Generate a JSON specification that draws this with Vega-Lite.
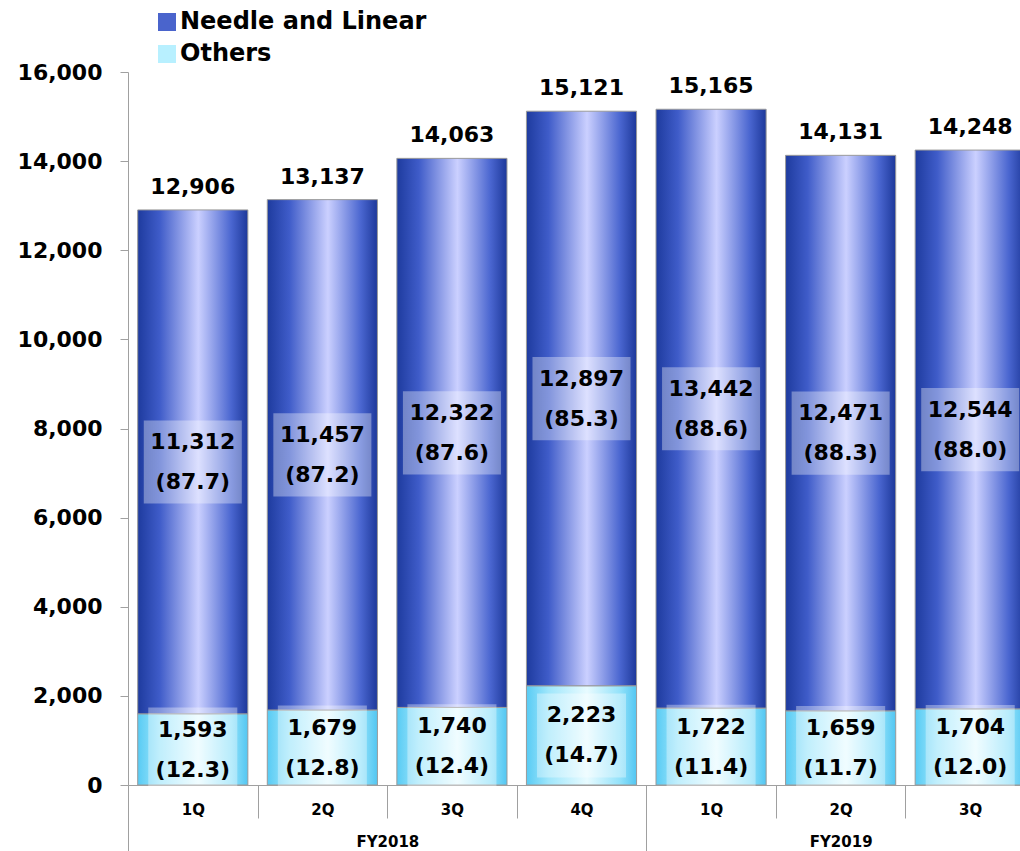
{
  "$schema": "https://vega.github.io/schema/vega-lite/v6.json",
  "width": 892,
  "height": 713,
  "autosize": {"type": "none"},
  "padding": {"left": 128, "top": 72, "right": 0, "bottom": 66},
  "background": "white",
  "config": {
    "font": "DejaVu Sans",
    "view": {"stroke": null},
    "axisY": {
      "grid": false,
      "domainColor": "#a0a0a0",
      "tickColor": "#a0a0a0",
      "tickSize": 8,
      "labelFontSize": 22,
      "labelFontWeight": "bold",
      "labelColor": "#000000",
      "labelPadding": 18,
      "labelExpr": "format(datum.value, ',')"
    }
  },
  "data": {
    "values": [
      {"period": "FY2018 1Q", "series": "Needle and Linear", "value": 11312, "pct": 87.7, "total": 12906},
      {"period": "FY2018 1Q", "series": "Others", "value": 1593, "pct": 12.3, "total": 12906},
      {"period": "FY2018 2Q", "series": "Needle and Linear", "value": 11457, "pct": 87.2, "total": 13137},
      {"period": "FY2018 2Q", "series": "Others", "value": 1679, "pct": 12.8, "total": 13137},
      {"period": "FY2018 3Q", "series": "Needle and Linear", "value": 12322, "pct": 87.6, "total": 14063},
      {"period": "FY2018 3Q", "series": "Others", "value": 1740, "pct": 12.4, "total": 14063},
      {"period": "FY2018 4Q", "series": "Needle and Linear", "value": 12897, "pct": 85.3, "total": 15121},
      {"period": "FY2018 4Q", "series": "Others", "value": 2223, "pct": 14.7, "total": 15121},
      {"period": "FY2019 1Q", "series": "Needle and Linear", "value": 13442, "pct": 88.6, "total": 15165},
      {"period": "FY2019 1Q", "series": "Others", "value": 1722, "pct": 11.4, "total": 15165},
      {"period": "FY2019 2Q", "series": "Needle and Linear", "value": 12471, "pct": 88.3, "total": 14131},
      {"period": "FY2019 2Q", "series": "Others", "value": 1659, "pct": 11.7, "total": 14131},
      {"period": "FY2019 3Q", "series": "Needle and Linear", "value": 12544, "pct": 88.0, "total": 14248},
      {"period": "FY2019 3Q", "series": "Others", "value": 1704, "pct": 12.0, "total": 14248}
    ]
  },
  "transform": [
    {"stack": "value", "groupby": ["period"], "sort": [{"field": "series", "order": "descending"}], "as": ["v0", "v1"]},
    {"calculate": "(datum.v0 + datum.v1) / 2", "as": "mid"},
    {"calculate": "format(datum.value, ',') + '\\n(' + format(datum.pct, '.1f') + ')'", "as": "lbl"}
  ],
  "resolve": {"axis": {"x": "independent"}},
  "layer": [
    {
      "mark": {"type": "bar", "stroke": "#9a9a9a", "strokeWidth": 1, "width": {"band": 0.85}},
      "encoding": {
        "x": {
          "field": "period", "type": "ordinal",
          "scale": {"range": [0, 907], "paddingInner": 0, "paddingOuter": 0},
          "axis": {
            "title": null,
            "domainColor": "#a0a0a0",
            "tickColor": "#a0a0a0",
            "tickBand": "extent",
            "tickSize": 33,
            "labelExpr": "split(datum.value, ' ')[1]",
            "labelPadding": -16,
            "labelFontSize": 15,
            "labelFontWeight": "bold",
            "labelColor": "#000000",
            "labelAngle": 0
          }
        },
        "y": {"field": "v1", "type": "quantitative", "scale": {"domain": [0, 16000], "nice": false}, "title": null,
          "axis": {"labelExpr": "format(datum.value, ',')", "values": [0, 2000, 4000, 6000, 8000, 10000, 12000, 14000, 16000]}},
        "y2": {"field": "v0"},
        "color": {
          "condition": {
            "test": "datum.series === 'Others'",
            "value": {"gradient": "linear", "x1": 0, "x2": 1, "y1": 0, "y2": 0, "stops": [
              {"offset": 0, "color": "#58cbf4"},
              {"offset": 0.2, "color": "#9fe6fb"},
              {"offset": 0.55, "color": "#e8fbff"},
              {"offset": 0.85, "color": "#93e2fa"},
              {"offset": 1, "color": "#52c6f2"}
            ]}
          },
          "value": {"gradient": "linear", "x1": 0, "x2": 1, "y1": 0, "y2": 0, "stops": [
            {"offset": 0, "color": "#1e3b9e"},
            {"offset": 0.2, "color": "#3f5cc9"},
            {"offset": 0.55, "color": "#cbd0ff"},
            {"offset": 0.85, "color": "#4a66d0"},
            {"offset": 1, "color": "#1d389a"}
          ]}
        }
      }
    },
    {
      "mark": {"type": "point", "filled": true, "color": "white", "opacity": 0.35, "strokeWidth": 0, "size": 7056},
      "encoding": {
        "x": {"field": "period", "type": "ordinal", "axis": null},
        "y": {"field": "mid", "type": "quantitative", "title": null},
        "shape": {
          "condition": {"test": "datum.series === 'Others'", "value": "M-1.06,-1L1.06,-1L1.06,1L-1.06,1Z"},
          "value": "M-1.167,-0.99L1.167,-0.99L1.167,0.99L-1.167,0.99Z"
        }
      }
    },
    {
      "mark": {"type": "text", "lineBreak": "\n", "lineHeight": 40, "fontSize": 22, "fontWeight": "bold", "color": "#000000", "baseline": "middle", "align": "center", "dy": -20},
      "encoding": {
        "x": {"field": "period", "type": "ordinal", "axis": null},
        "y": {"field": "mid", "type": "quantitative", "title": null},
        "text": {"field": "lbl", "type": "nominal"}
      }
    },
    {
      "transform": [{"filter": "datum.series === 'Needle and Linear'"}],
      "mark": {"type": "text", "fontSize": 22, "fontWeight": "bold", "color": "#000000", "baseline": "alphabetic", "align": "center", "dy": -16},
      "encoding": {
        "x": {"field": "period", "type": "ordinal", "axis": null},
        "y": {"field": "total", "type": "quantitative", "title": null},
        "text": {"field": "total", "type": "quantitative", "format": ","}
      }
    },
    {
      "mark": {"type": "point", "filled": true, "size": 0, "strokeWidth": 0},
      "encoding": {
        "x": {
          "field": "period", "type": "ordinal",
          "axis": {
            "orient": "bottom",
            "title": null,
            "domain": false,
            "tickBand": "extent",
            "tickSize": 66,
            "tickColor": "#a0a0a0",
            "tickOpacity": {"condition": {"test": "!datum.value || datum.value === 'FY2018 4Q'", "value": 1}, "value": 0},
            "labelExpr": "datum.value === 'FY2018 2Q' ? 'FY2018' : (datum.value === 'FY2019 2Q' ? 'FY2019' : '')",
            "labelOffset": {"condition": {"test": "datum.value === 'FY2018 2Q'", "value": 65}, "value": 0},
            "labelPadding": -17,
            "labelFontSize": 15,
            "labelFontWeight": "bold",
            "labelColor": "#000000",
            "labelAngle": 0
          }
        },
        "y": {"field": "v1", "type": "quantitative", "title": null},
        "color": {
          "field": "series", "type": "nominal",
          "scale": {"range": ["#4a64cc", "#b8f0ff"]},
          "legend": {
            "orient": "none",
            "legendX": 27,
            "legendY": -62,
            "title": null,
            "padding": 0,
            "symbolType": "square",
            "symbolSize": 324,
            "symbolOpacity": 1,
            "symbolStrokeColor": "#8a8a8a",
            "symbolStrokeWidth": 1,
            "labelFontSize": 24,
            "labelFontWeight": "bold",
            "labelColor": "#000000",
            "labelOffset": 1,
            "labelLimit": 400,
            "rowPadding": 8,
            "encode": {
              "symbols": {
                "update": {
                  "fill": {"signal": "datum.label === 'Others' ? {gradient: 'linear', x1: 0, x2: 1, y1: 0, y2: 0, stops: [{offset: 0, color: '#8fe0fa'}, {offset: 0.5, color: '#e8fbff'}, {offset: 1, color: '#8fe0fa'}]} : {gradient: 'linear', x1: 0, x2: 1, y1: 0, y2: 0, stops: [{offset: 0, color: '#2a48b4'}, {offset: 0.5, color: '#aab4f4'}, {offset: 1, color: '#2a48b4'}]}"}
                }
              }
            }
          }
        }
      }
    }
  ]
}
